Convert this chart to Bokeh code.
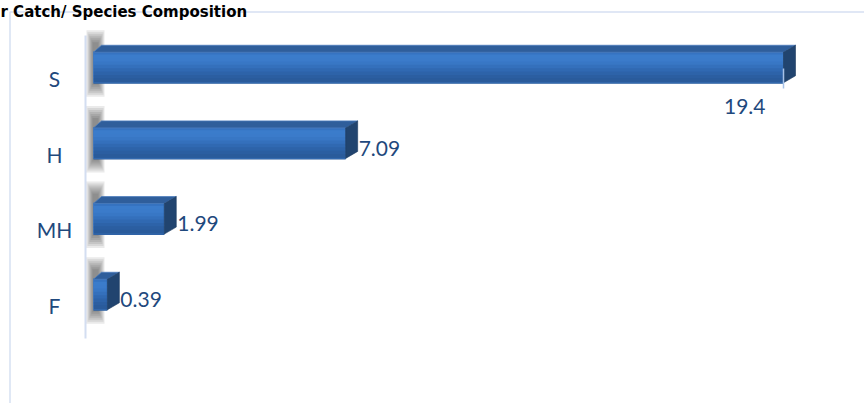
from bokeh.plotting import figure
from bokeh.models import Range1d, ColumnDataSource
from bokeh.core.properties import value
from bokeh.embed import file_html
from bokeh.resources import INLINE

# ---- data ----
categories = ["S", "H", "MH", "F"]          # top to bottom
values = [19.4, 7.09, 1.99, 0.39]
value_labels = ["19.4", "7.09", "1.99", "0.39"]
title_text = "r Catch/ Species Composition"

# ---- layout constants (pixels of the 864x403 canvas) ----
W, H = 864, 403
X0_PX = 93.0                      # pixel of value 0
PX_PER_UNIT = 690.0 / 19.4        # horizontal scale
Y0_PX = 67.0                      # centre of first category
STEP_PX = 75.67                   # distance between categories

def X(px):
    return (px - X0_PX) / PX_PER_UNIT

def Y(px):
    return (px - Y0_PX) / STEP_PX

def DX(px):
    return px / PX_PER_UNIT

def DY(px):
    return px / STEP_PX

idx = list(range(len(categories)))

p = figure(width=W, height=H, output_backend="svg", toolbar_location=None,
           x_range=Range1d(X(0), X(W)), y_range=Range1d(Y(H), Y(0)),
           x_axis_location=None, y_axis_location=None, min_border=0)
p.grid.visible = False
p.outline_line_color = None
p.background_fill_color = "white"
p.border_fill_color = "white"
p.styles = {"position": "absolute", "left": "0px", "top": "0px"}

TEXT_BLUE = "#1f497d"
FONT = value("Lato")

# chart frame border (light blue)
p.line(x=[X(9.5), X(9.5), X(W + 10)], y=[Y(H + 10), Y(11.5), Y(11.5)],
       line_color="#d6e0f2", line_width=1.5)

# title
p.text(x=[X(0)], y=[Y(11.5)], text=[title_text], text_font=value("DejaVu Sans"),
       text_font_style="bold", text_font_size="15px", text_color="black",
       text_baseline="alphabetic", text_align="left")

# vertical category axis line
p.segment(x0=[X(85)], y0=[Y(35)], x1=[X(85)], y1=[Y(338)],
          line_color="#d3def1", line_width=2)

half = DY(15.25)
dyu = -DY(7)
dxr = DX(12)
dxl = DX(8)

# soft shadows on the left of each bar
for k in range(7):
    p.quad(left=[-DX(1 + 1.0 * k)] * len(idx), right=[DX(5 + k)] * len(idx),
           top=[i - half + dyu - DY(3 + 2 * k) for i in idx],
           bottom=[i + half + DY(2 + 2 * k) for i in idx],
           fill_color="#202020", fill_alpha=0.095, line_color=None)

# front faces with vertical gradient
grad = ["#3673c1", "#3b7ccb", "#3b7bca", "#3877c5", "#3470bc",
        "#3069b2", "#2d63a9", "#2b5ea1", "#2a5b9b"]
n = len(grad)
hstrip = 2 * half / n
p.hbar(y=idx, left=0, right=values, height=2 * half, fill_color="#3370bb",
       line_color=None)
for j, c in enumerate(grad):
    p.hbar(y=[i - half + hstrip * (j + 0.5) for i in idx], left=0, right=values,
           height=hstrip * 1.6, fill_color=c, line_color=None)
# front outline
p.hbar(y=idx, left=0, right=values, height=2 * half, fill_color=None,
       line_color="#3f78c2", line_width=0.8, line_alpha=0.7)

# top faces
p.patches(xs=[[0, v, v + dxr, dxl] for v in values],
          ys=[[i - half, i - half, i - half + dyu, i - half + dyu] for i in idx],
          fill_color="#2f5e9b", line_color="#4b7cbd", line_width=0.8)

# side faces
p.patches(xs=[[v, v + dxr, v + dxr, v] for v in values],
          ys=[[i - half, i - half + dyu, i + half + dyu, i + half] for i in idx],
          fill_color="#21446f", line_color="#1c3a60", line_width=0.6)

# category labels
p.text(x=[X(54)] * len(idx), y=idx, text=categories, text_font=FONT,
       text_font_size="21px", text_color=TEXT_BLUE, text_align="center",
       text_baseline="middle", y_offset=11)

# value labels
inside = [k for k, v in enumerate(values) if v >= max(values)]
outside = [k for k in idx if k not in inside]
src_out = ColumnDataSource(dict(x=[values[k] for k in outside], y=[idx[k] for k in outside],
                                t=[value_labels[k] for k in outside]))
p.text(x="x", y="y", text="t", source=src_out, text_font=FONT, text_font_size="21px",
       text_color=TEXT_BLUE, text_align="left", text_baseline="middle",
       x_offset=13, y_offset=5)
p.segment(x0=[values[k] for k in inside], y0=[idx[k] + DY(1) for k in inside],
          x1=[values[k] for k in inside], y1=[idx[k] + DY(21) for k in inside],
          line_color="#a6c1e8", line_width=1.5)
src_in = ColumnDataSource(dict(x=[values[k] for k in inside], y=[idx[k] for k in inside],
                               t=[value_labels[k] for k in inside]))
p.text(x="x", y="y", text="t", source=src_in, text_font=FONT, text_font_size="21px",
       text_color=TEXT_BLUE, text_align="right", text_baseline="middle",
       x_offset=-18, y_offset=38.5)

open("out.html", "w").write(file_html(p, INLINE))
